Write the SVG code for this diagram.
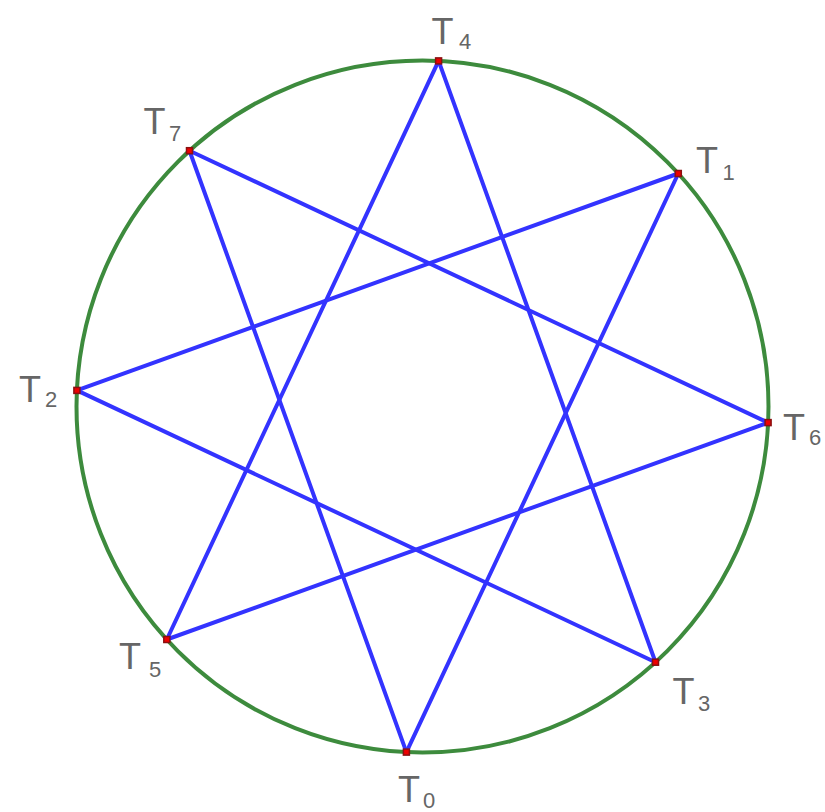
<svg xmlns="http://www.w3.org/2000/svg" width="825" height="812" viewBox="0 0 825 812">
<style>
.circ{fill:none;stroke:#3d8b3d;stroke-width:4}
.edge{stroke:#3333ff;stroke-width:4;stroke-linecap:round}
.pt{fill:#ee0000;stroke:#8a1010;stroke-width:1.5}
.lbl{font-family:"Liberation Sans",Arial,sans-serif;fill:#666;text-anchor:middle}
.t{font-size:36px}
.s{font-size:22px}
</style>
<rect width="825" height="812" fill="#fff"/>
<g id="circle"><circle class="circ" cx="422.5" cy="406.5" r="346"/></g>
<g id="connectors">
<line class="edge" x1="438.6" y1="60.9" x2="166.8" y2="639.5"/>
<line class="edge" x1="438.6" y1="60.9" x2="655.5" y2="662.2"/>
<line class="edge" x1="189.5" y1="150.7" x2="768.1" y2="422.6"/>
<line class="edge" x1="189.5" y1="150.7" x2="406.4" y2="752.1"/>
<line class="edge" x1="678.3" y1="173.5" x2="76.9" y2="390.4"/>
<line class="edge" x1="678.3" y1="173.5" x2="406.4" y2="752.1"/>
<line class="edge" x1="76.9" y1="390.4" x2="655.5" y2="662.2"/>
<line class="edge" x1="768.1" y1="422.6" x2="166.8" y2="639.5"/>
</g>
<g id="T4"><rect class="pt" x="435.6" y="57.9" width="6" height="6"/><text class="lbl t" x="442.5" y="44">T</text><text class="lbl s" x="465" y="49">4</text></g>
<g id="T1"><rect class="pt" x="675.3" y="170.5" width="6" height="6"/><text class="lbl t" x="707" y="173">T</text><text class="lbl s" x="728.5" y="180">1</text></g>
<g id="T6"><rect class="pt" x="765.1" y="419.6" width="6" height="6"/><text class="lbl t" x="794" y="440">T</text><text class="lbl s" x="815" y="445">6</text></g>
<g id="T3"><rect class="pt" x="652.5" y="659.2" width="6" height="6"/><text class="lbl t" x="683.5" y="704">T</text><text class="lbl s" x="704" y="711">3</text></g>
<g id="T0"><rect class="pt" x="403.4" y="749.1" width="6" height="6"/><text class="lbl t" x="409" y="802">T</text><text class="lbl s" x="429" y="808">0</text></g>
<g id="T5"><rect class="pt" x="163.8" y="636.5" width="6" height="6"/><text class="lbl t" x="130" y="669">T</text><text class="lbl s" x="155" y="677">5</text></g>
<g id="T2"><rect class="pt" x="73.9" y="387.4" width="6" height="6"/><text class="lbl t" x="30" y="402">T</text><text class="lbl s" x="51" y="407">2</text></g>
<g id="T7"><rect class="pt" x="186.5" y="147.7" width="6" height="6"/><text class="lbl t" x="154.5" y="134">T</text><text class="lbl s" x="175" y="141">7</text></g>
</svg>
